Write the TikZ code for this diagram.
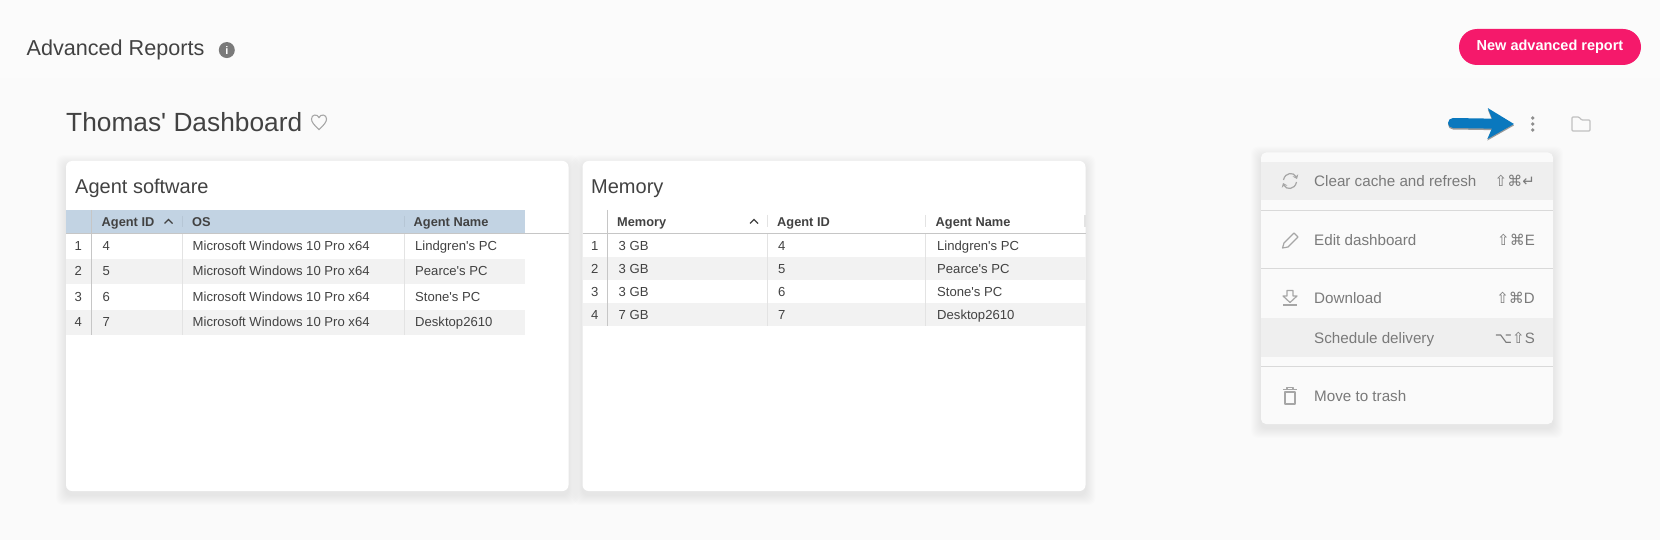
\documentclass[tikz,border=0pt]{standalone}
\usepackage{fontspec}
\setmainfont{Liberation Sans}[Ligatures=TeXOff]
\newfontfamily\keysfont{DejaVu Sans}
\usetikzlibrary{arrows.meta,positioning}

\definecolor{pagebg}{HTML}{FAFAFA}
\definecolor{bandbg}{HTML}{FBFBFB}
\definecolor{inkdark}{HTML}{424242}
\definecolor{inkmenu}{HTML}{7A7A7A}
\definecolor{iconpale}{HTML}{A6A6A6}
\definecolor{headblue}{HTML}{C2D3E3}
\definecolor{rowgrey}{HTML}{F2F2F2}
\definecolor{hovergrey}{HTML}{EFEFEF}
\definecolor{pinkbtn}{HTML}{F5196B}
\definecolor{arrowblue}{HTML}{0A78BE}

\tikzset{
    title/.style={anchor=mid west, inner sep=0pt, text=inkdark},
    headcell/.style={anchor=mid west, inner sep=0pt, yshift=-2pt, text=inkdark, font=\fontsize{12.8}{13}\selectfont\bfseries},
    cell/.style={anchor=mid west, inner sep=0pt, yshift=-2.2pt, text=inkdark, font=\fontsize{13.1}{13}\selectfont},
    menuitem/.style={anchor=mid west, inner sep=0pt, text=inkmenu, font=\fontsize{15.2}{15}\selectfont},
    shortcut/.style={anchor=mid east, inner sep=0pt, text=inkmenu, font=\fontsize{15}{15}\selectfont},
    menuicon/.style={draw=iconpale, line width=1.2pt, line join=round},
    chevron/.style={draw=inkdark, line width=1.4pt},
    softedge/.style={fill=black, opacity=0.006, rounded corners=7pt},
}

% soft edge round a card or the menu
\newcommand{\softbox}[4]{
    \foreach \s in {1,...,10}
        \fill [softedge] (#1-\s,#2-\s+4) rectangle (#3+\s,#4+\s+4);
}

\begin{document}
\begin{tikzpicture}[x=1pt, y=-1pt, >=Stealth]
    \useasboundingbox (0,0) rectangle (1660,540);

    % Page
    \fill [pagebg] (0,0) rectangle (1660,540);
    \fill [bandbg] (0,0) rectangle (1660,78);

    % Page header
    \node [title, font=\fontsize{21.6}{21}\selectfont]	(pagetitle)  at (26.5,53)   {Advanced Reports};
    \node [circle, fill=inkmenu, text=white, inner sep=0pt, minimum size=16pt, font=\fontsize{11}{11}\selectfont\bfseries] (info) [right=14pt of pagetitle] {i};
    \node [fill=pinkbtn, text=white, rounded corners=18pt, minimum width=182pt, minimum height=36pt, inner sep=0pt, font=\fontsize{14.5}{15}\selectfont\bfseries] (newreport) at (1550,47) {New advanced report};

    % Dashboard title
    \node [title, font=\fontsize{26.3}{26}\selectfont]	(dashtitle)  at (66,128.5)  {Thomas' Dashboard};
    \draw [draw=iconpale, line width=1.1pt] (319,129.5) .. controls (314,125) and (311.5,122) .. (311.5,119) .. controls (311.5,114.5) and (317,113.5) .. (319,117.5) .. controls (321,113.5) and (326.5,114.5) .. (326.5,119) .. controls (326.5,122) and (324,125) .. (319,129.5) -- cycle;

    % Cards
    \softbox{66}{161}{568.5}{491}
    \softbox{582.5}{161}{1085.5}{491}
    \fill [white, rounded corners=6pt] (66,161) rectangle (568.5,491);
    \fill [white, rounded corners=6pt] (582.5,161) rectangle (1085.5,491);
    \node [title, font=\fontsize{20}{20}\selectfont]	(cardsw)   at (75,190.5)   {Agent software};
    \node [title, font=\fontsize{20}{20}\selectfont]	(cardmem)  at (591,190.5)  {Memory};

    % Agent software table
    \fill [headblue] (66,210) rectangle (525,233);
    \fill [rowgrey]  (66,259) rectangle (525,284);
    \fill [rowgrey]  (66,310) rectangle (525,335);
    \draw [gray!45] (66,233.5) -- (568.5,233.5);
    \draw [gray!45] (91.5,210) -- (91.5,335);
    \foreach \colx in {182.5,404} {
        \draw [gray!22] (\colx,234) -- (\colx,335);
        \draw [headblue!94!black] (\colx,216) -- (\colx,227);
    }
    \node [headcell] (swid)    at (101.5,221.5) {Agent ID};
    \node [headcell] (swos)    at (192,221.5)   {OS};
    \node [headcell] (swname)  at (413.5,221.5) {Agent Name};
    \draw [chevron] (164.5,223.5) -- (168.5,219.5) -- (172.5,223.5);
    \foreach \rowno/\agent/\host/\y in {1/4/Lindgren's PC/246, 2/5/Pearce's PC/271, 3/6/Stone's PC/297, 4/7/Desktop2610/322} {
        \node [cell] (swrow\rowno)   at (74.5,\y)  {\rowno};
        \node [cell] (swagent\rowno) at (102.5,\y) {\agent};
        \node [cell] (swos\rowno)    at (192.5,\y) {Microsoft Windows 10 Pro x64};
        \node [cell] (swhost\rowno)  at (415,\y)   {\host};
    }

    % Memory table
    \fill [rowgrey] (582.5,257) rectangle (1085.5,280);
    \fill [rowgrey] (582.5,303) rectangle (1085.5,326);
    \draw [gray!45] (582.5,233.5) -- (1085.5,233.5);
    \draw [gray!45] (607,210) -- (607,326);
    \foreach \colx in {767.5,925.5} {
        \draw [gray!22] (\colx,234) -- (\colx,326);
        \draw [gray!22] (\colx,215) -- (\colx,227);
    }
    \fill [gray!22] (1083.5,215) rectangle (1085.5,227);
    \node [headcell] (memsize)  at (617,221.5)   {Memory};
    \node [headcell] (memid)    at (777,221.5)   {Agent ID};
    \node [headcell] (memname)  at (935.5,221.5) {Agent Name};
    \draw [chevron] (750,223.5) -- (754,219.5) -- (758,223.5);
    \foreach \rowno/\gb/\agent/\host/\y in {1/3/4/Lindgren's PC/246, 2/3/5/Pearce's PC/269, 3/3/6/Stone's PC/292, 4/7/7/Desktop2610/315} {
        \node [cell] (memrow\rowno)   at (591,\y)   {\rowno};
        \node [cell] (memgb\rowno)    at (618.5,\y) {\gb{} GB};
        \node [cell] (memagent\rowno) at (778,\y)   {\agent};
        \node [cell] (memhost\rowno)  at (937,\y)   {\host};
    }

    % Toolbar
    \node [minimum width=37pt, minimum height=18pt, inner sep=0pt] (dots) at (1532.7,124) {};
    \foreach \y in {118,124,130}
        \fill [inkmenu!85] (1532.7,\y) circle (1.8pt);
    \draw [draw=iconpale!70, line width=1.2pt, rounded corners=1pt] (1572,131) -- (1572,117) -- (1579,117) -- (1581.5,120) -- (1590,120) -- (1590,131) -- cycle;
    \coordinate (arrowtail) at (1453,123);
    \draw [draw=black!40, line width=10pt, line cap=round, -{Stealth[length=26pt,width=30pt,inset=6pt]}, transform canvas={yshift=-1.5pt}] (arrowtail) -- (dots.west);
    \draw [draw=arrowblue, fill=arrowblue, line width=10pt, line cap=round, -{Stealth[length=26pt,width=30pt,inset=6pt]}] (arrowtail) -- (dots.west);

    % Menu
    \softbox{1261}{152.5}{1553}{424}
    \fill [pagebg, rounded corners=5pt] (1261,152.5) rectangle (1553,424);
    \fill [hovergrey] (1261,162) rectangle (1553,200.5);
    \fill [hovergrey] (1261,318) rectangle (1553,357);
    \foreach \y in {210,268,366}
        \draw [gray!30] (1261,\y) -- (1553,\y);
    \node [menuitem] (clear)    at (1314,183.5)  {Clear cache and refresh};
    \node [menuitem] (edit)     [below=59pt of clear.mid west, anchor=mid west]    {Edit dashboard};
    \node [menuitem] (download) [below=58pt of edit.mid west, anchor=mid west]     {Download};
    \node [menuitem] (schedule) [below=40pt of download.mid west, anchor=mid west] {Schedule delivery};
    \node [menuitem] (trash)    [below=58pt of schedule.mid west, anchor=mid west] {Move to trash};
    \node [shortcut] (keyclear)    at (1535,183.5) {\keysfont ⇧⌘↵};
    \node [shortcut] (keyedit)     at (1535,242.5) {{\keysfont ⇧⌘}E};
    \node [shortcut] (keydownload) at (1535,300.5) {{\keysfont ⇧⌘}D};
    \node [shortcut] (keyschedule) at (1535,340.5) {{\keysfont ⌥⇧}S};

    % Menu icons
    \draw [menuicon, -{Stealth[length=4pt,width=6pt]}] (1283.5,180) .. controls (1285,172) and (1294,172) .. (1297,179);
    \draw [menuicon, -{Stealth[length=4pt,width=6pt]}] (1296.5,182) .. controls (1295,190) and (1286,190) .. (1283,183);
    \draw [menuicon] (1282.5,248) -- (1284,243) -- (1294,233) -- (1298,237) -- (1288,247) -- cycle;
    \draw [menuicon] (1287,290.5) -- (1293,290.5) -- (1293,296) -- (1297,296) -- (1290,302.5) -- (1283,296) -- (1287,296) -- cycle;
    \draw [menuicon] (1283,305) -- (1297,305);
    \draw [menuicon] (1283,389.5) -- (1297,389.5);
    \draw [menuicon] (1287,389) -- (1287,387.5) -- (1293,387.5) -- (1293,389);
    \draw [menuicon] (1285,392) rectangle (1295,404);
\end{tikzpicture}
\end{document}
